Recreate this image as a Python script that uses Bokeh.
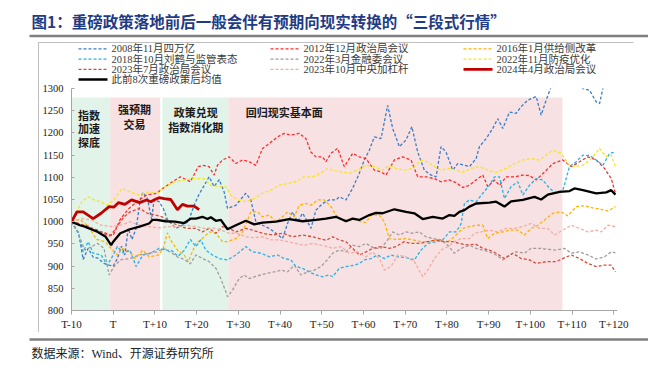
from bokeh.plotting import figure
from bokeh.models import Range1d, FixedTicker
from bokeh.layouts import column
from bokeh.embed import file_html
from bokeh.resources import INLINE
from bokeh.core.properties import value

# ---------------- data ----------------
tick_days = [-10, 0, 10, 20, 30, 40, 50, 60, 70, 80, 90, 100, 110, 120]
tick_labels = ["T-10", "T", "T+10", "T+20", "T+30", "T+40", "T+50", "T+60",
               "T+70", "T+80", "T+90", "T+100", "T+110", "T+120"]
y_ticks = [800, 850, 900, 950, 1000, 1050, 1100, 1150, 1200, 1250, 1300]

phase_start = [-10, -0.7, 11.8, 27.6]
phase_end = [-0.7, 11.25, 27.6, 107.7]
phase_top = [1280, 1280, 1280, 1280]
phase_kind = ["green", "pink", "green", "pink"]

s2008_x = [-10, -9, -8.3, -7.2, -6, -4.8, -3.7, -2.2, -1, 0, 1, 2, 2.8, 3.6, 4.5, 5.5, 6.5, 7.1, 8.2, 9.2, 9.8, 11, 12, 13, 14, 15, 16.5, 18, 19.4, 20.5, 21.4, 23, 24.2, 25.4, 26.6, 27.4, 29.4, 31.8, 33, 34.2, 35.8, 37.4, 39, 40.6, 41.8, 43, 44.2, 45.4, 46.6, 47.4, 48.6, 50.2, 51.8, 53.4, 54.2, 55.8, 57.4, 59, 60.2, 61.4, 62.6, 64.2, 65.8, 67, 68.6, 70.2, 71.6, 73, 74.6, 76.2, 77.4, 78.6, 79.8, 81.4, 82.6, 84.2, 85.4, 87, 87.8, 89.4, 91, 92.2, 93.4, 95, 96.6, 97.8, 99.4, 101.4, 102.6, 103.8, 105, 107, 110, 112.6, 114.2, 115.8, 116.6, 117.4, 118.5]
s2008_y = [1000, 985, 975, 915, 940, 920, 918, 906, 902, 900, 917, 945, 925, 985, 960, 985, 1050, 1066, 1052, 1005, 1049, 1045, 1030, 1005, 995, 985, 992, 1000, 1037, 1060, 1075, 1101, 1079, 1095, 1067, 1030, 1037, 1064, 1049, 1000, 992, 985, 974, 962, 996, 1022, 1000, 1019, 1000, 985, 1026, 1041, 1049, 1049, 1056, 1049, 1075, 1109, 1139, 1161, 1191, 1187, 1262, 1210, 1169, 1184, 1214, 1157, 1116, 1105, 1101, 1169, 1157, 1116, 1131, 1127, 1124, 1142, 1169, 1187, 1210, 1232, 1210, 1247, 1244, 1259, 1274, 1282, 1240, 1274, 1304, 1330, 1330, 1300, 1296, 1270, 1266, 1300, 1320]

s2012_x = [-10, -8.5, -7, -5.5, -4, -2.5, -1, 0, 1.8, 3.8, 6.2, 8, 10.4, 11.9, 14.2, 16.1, 18.5, 20.4, 21.4, 23, 24.2, 25, 26.2, 27.8, 29.4, 31, 32.6, 34.2, 35.8, 37.4, 39.4, 41, 42.6, 44.6, 46.2, 47.4, 48.6, 50.2, 51, 52.2, 53.8, 55.4, 57.4, 59, 60.6, 62.6, 64.2, 65.4, 67.4, 69.4, 71.4, 73, 75, 77, 78.6, 80.6, 82.2, 83.8, 85.4, 87, 88.6, 89.8, 91.4, 92.6, 94.2, 96.2, 98.2, 99.8, 101.4, 103.4, 105.4, 107.8, 109.8, 111.8, 113.8, 115.8, 117.8, 119.4, 120.4]
s2012_y = [1000, 997, 990, 985, 982, 975, 968, 970, 1007, 1030, 1049, 1060, 1064, 1075, 1090, 1101, 1090, 1124, 1127, 1124, 1105, 1127, 1139, 1146, 1131, 1139, 1135, 1127, 1165, 1176, 1191, 1199, 1195, 1199, 1187, 1157, 1146, 1146, 1135, 1154, 1165, 1124, 1154, 1146, 1142, 1116, 1112, 1105, 1139, 1146, 1139, 1101, 1101, 1097, 1090, 1094, 1088, 1077, 1082, 1094, 1105, 1079, 1094, 1082, 1101, 1101, 1105, 1104, 1094, 1112, 1131, 1139, 1124, 1135, 1146, 1139, 1120, 1097, 1064]

s2016_x = [-10, -8, -6, -4, -2, -1, 0, 1, 2.1, 4, 5.2, 7.1, 8.6, 10.9, 12, 13, 14, 15.5, 17, 18, 19.8, 21.4, 23, 24.6, 26.2, 27.4, 29.4, 31, 33, 34.6, 35.8, 37.4, 39, 40.6, 41.8, 43.4, 44.6, 46.2, 47.4, 49, 50.6, 52.2, 53.4, 54.6, 55.8, 57.4, 59, 60.6, 61.8, 63.8, 65, 66.2, 67.8, 70.2, 71.8, 73.8, 75.8, 77.4, 79, 80.6, 82.2, 83.8, 85.4, 87, 88.6, 89.8, 91.4, 93.4, 95, 97, 98.6, 100.2, 101.8, 103.4, 105.4, 107.4, 109, 111, 113, 115, 117, 118.6, 120.4]
s2016_y = [1000, 1005, 990, 960, 955, 945, 935, 925, 940, 932, 917, 936, 921, 925, 940, 975, 955, 935, 925, 910, 951, 962, 977, 974, 955, 955, 962, 977, 1022, 1022, 1011, 1015, 1000, 1011, 1022, 1011, 1037, 1041, 1037, 1049, 1049, 1034, 1015, 1007, 1004, 1007, 1001, 998, 1015, 1015, 1000, 962, 960, 962, 959, 955, 955, 959, 955, 957, 970, 985, 989, 992, 992, 962, 974, 977, 981, 981, 970, 985, 992, 1004, 1019, 1022, 1013, 1034, 1036, 1031, 1028, 1024, 1034]

s2018_x = [-10, -8.3, -7.2, -6, -4.8, -2.9, -1.4, 0, 1, 2.5, 4, 5.5, 7.1, 9, 11, 12.5, 14, 15.5, 17, 18.5, 19.8, 21, 22.2, 23.8, 25.4, 27.4, 29.4, 31.8, 33.4, 35.4, 37.4, 39.4, 41, 42.6, 43.8, 45.4, 47, 48.6, 50.2, 51.8, 52.6, 54.2, 55.8, 57.8, 59, 60.2, 61.8, 63.4, 65, 66.6, 68.2, 70.2, 72.2, 73.8, 75.4, 77.4, 79, 80.6, 82.2, 83.4, 84.2, 85.4, 87, 88.6, 90.2, 91.4, 92.6, 93.8, 95.4, 97, 98.2, 99.8, 101.4, 103, 104.6, 106.2, 107.8, 109.4, 111, 112.6, 114.2, 115.8, 117.4, 119, 120.4]
s2018_y = [1000, 974, 932, 955, 929, 925, 902, 925, 944, 929, 936, 899, 925, 929, 940, 936, 935, 922, 935, 960, 944, 959, 936, 925, 917, 914, 925, 944, 932, 929, 921, 925, 917, 914, 899, 895, 887, 880, 876, 880, 876, 895, 899, 902, 906, 914, 917, 925, 917, 925, 921, 919, 914, 936, 951, 955, 959, 977, 977, 995, 1041, 1049, 1045, 1064, 1082, 1101, 1101, 1052, 1079, 1090, 1060, 1082, 1097, 1094, 1075, 1064, 1071, 1124, 1135, 1150, 1149, 1139, 1127, 1154, 1157]

s2203_x = [-10, -8.5, -6.8, -5.2, -3.7, -2.2, -1, 0.2, 1.7, 4, 6.3, 8.6, 10.5, 12, 14, 15.5, 17, 18.5, 19.8, 21.4, 23, 24.6, 25.8, 27, 27.4, 28.6, 30.2, 31.4, 32.6, 33.8, 35.4, 37, 38.6, 40.2, 41.8, 43.4, 45, 46.6, 48.2, 49.8, 51.4, 52.6, 54.2, 55.8, 57.4, 59, 60.6, 62.6, 64.2, 65.8, 67, 68.6, 70.2, 71.8, 73.4, 75, 76.6, 78.6, 80.2, 81.8, 83.4, 85.4, 87, 88.6, 90.2, 91.8, 93.4, 95, 96.6, 98.6, 100.2, 102.2, 104.2, 106.2, 108.2, 109.8, 111.8, 113.8, 115.8, 117.8, 119.4, 120.4]
s2203_y = [1000, 975, 936, 944, 951, 940, 880, 899, 914, 917, 925, 929, 932, 940, 930, 920, 915, 905, 925, 917, 910, 895, 872, 842, 831, 846, 872, 880, 872, 876, 880, 884, 887, 891, 887, 902, 880, 887, 891, 899, 915, 929, 936, 932, 947, 944, 951, 940, 940, 959, 977, 970, 977, 974, 977, 966, 962, 959, 947, 929, 940, 947, 940, 936, 932, 925, 914, 925, 932, 929, 940, 940, 938, 936, 940, 929, 932, 925, 916, 921, 932, 930]

s2211_x = [-10, -9, -7.5, -6, -4.5, -3, -1.4, 0.2, 2.1, 4, 6.3, 8.6, 10.5, 12.5, 14.8, 17, 19, 21.8, 23.4, 25.4, 27, 28.2, 29.8, 31.8, 33.8, 35.8, 37.8, 39.8, 41.8, 43.8, 45.8, 47.8, 49.8, 51.4, 52.6, 54.6, 56.6, 58.6, 60.6, 62.6, 64.6, 66.2, 67.8, 69.8, 71.8, 73.8, 75.4, 77, 78.6, 80.6, 82.2, 83.8, 85.8, 87.8, 89.8, 91.8, 94.2, 96.2, 98.2, 100.2, 102.2, 103.8, 105.4, 107.4, 109, 110.6, 112.6, 114.6, 116.6, 118.2, 119.4, 120.4]
s2211_y = [1000, 1019, 1045, 1056, 1049, 1045, 1037, 1049, 1075, 1067, 1060, 1067, 1064, 1079, 1090, 1094, 1097, 1097, 1082, 1079, 1079, 1060, 1049, 1045, 1052, 1064, 1071, 1082, 1086, 1090, 1101, 1101, 1109, 1120, 1116, 1112, 1109, 1116, 1127, 1124, 1116, 1127, 1120, 1116, 1120, 1139, 1135, 1124, 1116, 1120, 1116, 1111, 1120, 1124, 1116, 1111, 1120, 1131, 1139, 1142, 1139, 1150, 1161, 1154, 1131, 1124, 1127, 1142, 1165, 1146, 1150, 1124]

s2307_x = [-10, -8.3, -6, -4, -2, -0.5, 1, 2.5, 4, 6.3, 8.2, 10.2, 11.7, 13.5, 15.5, 17.5, 19.8, 21.4, 23, 24.6, 26.2, 27.8, 29.4, 31.8, 33.4, 35.8, 38.2, 40.6, 43, 45.4, 47.8, 49.4, 51, 52.6, 54.2, 55.8, 57.4, 59, 60.6, 62.2, 64.2, 66.2, 67.8, 69.8, 71.4, 73.4, 75.4, 77.4, 79.4, 81.4, 83, 84.6, 87, 88.6, 90.2, 91.8, 93.8, 95.8, 97.8, 99.8, 101.4, 103.8, 106.2, 107.8, 109.8, 111.8, 113.8, 115.8, 117.8, 119.4, 120.4]
s2307_y = [1000, 995, 990, 980, 975, 970, 990, 1010, 1022, 1030, 1019, 1015, 1011, 1000, 992, 985, 985, 977, 985, 974, 989, 985, 977, 985, 981, 974, 970, 974, 966, 970, 966, 962, 958, 966, 959, 955, 940, 925, 932, 940, 944, 940, 944, 955, 951, 951, 955, 959, 955, 955, 951, 948, 949, 940, 936, 929, 917, 929, 917, 914, 906, 910, 910, 917, 925, 917, 906, 899, 902, 902, 887]

s2310_x = [-10, -7.5, -5.2, -2.9, -0.6, 1.7, 4, 6.3, 8.6, 10.9, 13.2, 15.5, 17.8, 19.8, 21.8, 23.8, 25.8, 27.8, 29.8, 31.8, 33.8, 35.8, 37.8, 39.8, 41.8, 43.8, 45.8, 47.8, 49.8, 51, 52.6, 54.6, 56.6, 58.6, 60.6, 62.2, 63.8, 65, 66.6, 68.2, 70.2, 72.2, 74.2, 75.4, 77, 78.6, 80.2, 81.8, 83.4, 85.4, 86.6, 88.2, 90.2, 92.2, 94.2, 96.2, 98.2, 100.2, 102.2, 104.2, 105.8, 107.8, 109.8, 111.8, 113.8, 115.8, 117, 118.6, 120.4]
s2310_y = [1000, 1007, 1004, 992, 989, 992, 1000, 992, 989, 986, 989, 989, 992, 989, 985, 986, 981, 974, 974, 966, 964, 966, 959, 959, 955, 951, 947, 951, 947, 945, 940, 944, 929, 932, 921, 932, 917, 891, 899, 925, 921, 910, 876, 891, 917, 936, 944, 955, 962, 962, 974, 977, 981, 977, 985, 985, 989, 996, 985, 985, 970, 981, 992, 985, 977, 981, 977, 992, 989]

s2404_x = [-10, -8.7, -7.2, -4.8, -2.9, -1, 0.2, 1.3, 2.8, 4.4, 6.3, 8, 9, 10, 11, 12.2, 13.8, 15.4, 16.6, 17.8, 19.4, 20.6]
s2404_y = [1000, 1022, 1022, 1007, 1019, 1034, 1033, 1043, 1039, 1049, 1043, 1049, 1045, 1050, 1054, 1052, 1050, 1027, 1039, 1035, 1035, 1027]

mean_x = [-10, -8, -6.8, -5, -3.7, -1.8, -0.5, 0, 1.7, 4, 6.3, 8.6, 9.4, 10.5, 12.5, 14.8, 17, 18.6, 19.8, 21.4, 22.6, 23.4, 24.6, 25.8, 27.4, 29.4, 31.8, 33.8, 35.8, 39, 42.2, 45.4, 48.6, 51, 53.4, 55.8, 57.4, 59, 61.4, 63, 64.6, 67.4, 70.2, 72.2, 74.2, 76.6, 79, 80.6, 81.8, 83, 84.2, 85.4, 87, 90.2, 91.8, 93.8, 95.4, 98.2, 101, 102.6, 104.2, 107, 109.4, 110.6, 112.6, 115.8, 118.2, 119.4, 120.4]
mean_y = [1000, 992, 989, 982, 977, 966, 947, 955, 974, 983, 989, 996, 1004, 1004, 1001, 1000, 997, 1007, 1007, 1011, 1006, 1010, 1002, 1004, 983, 992, 1002, 994, 998, 1000, 1006, 1001, 1004, 1007, 1011, 1001, 1007, 1004, 1015, 1020, 1019, 1028, 1022, 1019, 1006, 1011, 1007, 1015, 1013, 1022, 1026, 1034, 1041, 1043, 1045, 1034, 1046, 1049, 1056, 1050, 1061, 1067, 1069, 1075, 1071, 1064, 1066, 1071, 1061]

series_names = ["2008年11月四万亿", "2012年12月政治局会议", "2016年1月供给侧改革",
                "2018年10月刘鹤与监管表态", "2022年3月金融委会议", "2022年11月防疫优化",
                "2023年7月政治局会议", "2023年10月中央加杠杆", "2024年4月政治局会议",
                "此前8次重磅政策后均值"]

title_text = "图1：重磅政策落地前后一般会伴有预期向现实转换的“三段式行情”"
source_text = "数据来源：Wind、开源证券研究所"

# ---------------- styles ----------------
CJK = "Noto Sans CJK SC"
SERIF = "Liberation Serif, Noto Sans CJK SC"
W = 648

series = [
    (s2008_x, s2008_y, "#3b7cc6", 1.3, "3 2"),
    (s2012_x, s2012_y, "#ff2b2b", 1.3, "3 2"),
    (s2016_x, s2016_y, "#ffb300", 1.3, "3 2"),
    (s2018_x, s2018_y, "#27b1e9", 1.3, "3 2"),
    (s2203_x, s2203_y, "#a39c9c", 1.3, "3 2"),
    (s2211_x, s2211_y, "#f7e61c", 1.3, "3 2"),
    (s2307_x, s2307_y, "#d84a3a", 1.3, "3 2"),
    (s2310_x, s2310_y, "#f3aca2", 1.3, "3 2"),
    (s2404_x, s2404_y, "#c00000", 2.8, "solid"),
    (mean_x, mean_y, "#000000", 2.3, "solid"),
]
phase_color = {"green": "#e2f3ea", "pink": "#f7e1e2"}


def blank(height, y0, y1):
    f = figure(width=W, height=height, output_backend="svg", toolbar_location=None,
               x_range=Range1d(0, W), y_range=Range1d(y1, y0),
               x_axis_location=None, y_axis_location=None, title_location=None,
               min_border=0, min_border_left=0, min_border_right=0,
               min_border_top=0, min_border_bottom=0, frame_align=False)
    f.outline_line_color = None
    f.grid.visible = False
    f.background_fill_color = "white"
    f.border_fill_color = "white"
    return f


# ---------------- top: title + legend ----------------
TOP_H = 84
top = blank(TOP_H, 0, TOP_H)
top.text(x=[31], y=[20], text=[title_text], text_font=value(CJK), text_font_style="bold",
         text_font_size="15.5px", text_color="#1f3b86", text_baseline="middle", text_align="left")
top.line([29, 648], [35.5, 35.5], line_color="#7f7f7f", line_width=2.5)
top.line([38, 633], [42, 42], line_color="#bfbfbf", line_width=1)
top.line([38, 38], [42, TOP_H], line_color="#bfbfbf", line_width=1)

col_line = [78, 270, 463]
col_text = [111, 303, 496]
row_y = [48.3, 58.6, 68.9, 79.0]
for i, (name, s) in enumerate(zip(series_names, series)):
    r, c = divmod(i, 3)
    _, _, color, lw, dash = s
    top.line([col_line[c], col_line[c] + 29], [row_y[r], row_y[r]],
             line_color=color, line_width=lw, line_dash=dash)
    top.text(x=[col_text[c]], y=[row_y[r]], text=[name], text_font=value(SERIF),
             text_font_size="10.5px", text_color="#3a3a3a", text_baseline="middle", text_align="left")

# ---------------- main chart ----------------
p = figure(width=W, height=248, output_backend="svg", toolbar_location=None,
           x_range=Range1d(-10, 120.9), y_range=Range1d(800, 1300),
           title_location=None, min_border_left=71, min_border_right=31,
           min_border_top=4, min_border_bottom=22, frame_align=False)
p.outline_line_color = None
p.grid.visible = False
p.background_fill_color = "white"
p.border_fill_color = None
p.styles = {"background-color": "white",
            "background-image": "linear-gradient(to right, transparent 38px, #bfbfbf 38px, #bfbfbf 39px, transparent 39px)"}

p.quad(left=phase_start, right=phase_end, bottom=[800] * len(phase_start), top=phase_top,
       fill_color=[phase_color[k] for k in phase_kind], line_color=None)

for xs, ys, color, lw, dash in series:
    p.line(xs, ys, line_color=color, line_width=lw, line_dash=dash)

ann_font = dict(text_font=value(CJK), text_font_style="bold", text_font_size="11px",
                text_color="#1a1a1a", text_baseline="middle", text_align="center")
p.text(x=[-5.8, -5.8, -5.8], y=[1241, 1211, 1180], text=["指数", "加速", "探底"], **ann_font)
p.text(x=[5.1, 5.1], y=[1253, 1219], text=["强预期", "交易"], **ann_font)
p.text(x=[19.8, 19.8], y=[1247, 1213], text=["政策兑现", "指数消化期"], **ann_font)
p.text(x=[41], y=[1247], text=["回归现实基本面"], **ann_font)

p.xaxis.ticker = FixedTicker(ticks=tick_days)
p.xaxis.major_label_overrides = {d: l for d, l in zip(tick_days, tick_labels)}
p.yaxis.ticker = FixedTicker(ticks=y_ticks)
for ax in (p.xaxis[0], p.yaxis[0]):
    ax.axis_line_color = "#a6a6a6"
    ax.major_tick_line_color = "#a6a6a6"
    ax.minor_tick_line_color = None
    ax.major_label_text_font = SERIF
    ax.major_label_text_color = "#222222"
p.xaxis.major_label_text_font_size = "11px"
p.yaxis.major_label_text_font_size = "10.5px"
p.xaxis.major_tick_out = 4
p.xaxis.major_tick_in = 0
p.xaxis.major_label_standoff = 3
p.yaxis.major_tick_in = 3
p.yaxis.major_tick_out = 0
p.yaxis.major_label_standoff = 8

# ---------------- bottom: source ----------------
BOT0 = 332
bot = blank(370 - BOT0, BOT0, 370)
bot.line([29, 648], [339, 339], line_color="#7f7f7f", line_width=2.5)
bot.text(x=[31], y=[353], text=[source_text], text_font=value(SERIF),
         text_font_size="12px", text_color="#222222", text_baseline="middle", text_align="left")

layout = column(top, p, bot)
open("out.html", "w").write(file_html(layout, INLINE))
